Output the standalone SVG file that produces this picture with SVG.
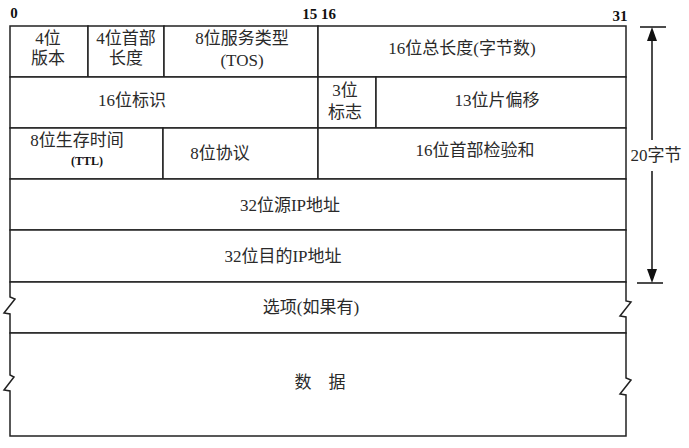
<svg xmlns="http://www.w3.org/2000/svg" width="689" height="448" viewBox="0 0 689 448">
<style>
.cell{fill:#fff;stroke:#222;stroke-width:1.5}
.t{font-family:"Liberation Serif","DejaVu Serif","Noto Sans CJK SC",serif;font-size:17px;fill:#2a2a2a;text-anchor:middle}
.h{font-family:"Liberation Serif","DejaVu Serif",serif;font-size:15px;font-weight:bold;fill:#111;text-anchor:middle}
.b{font-family:"Liberation Serif","DejaVu Serif",serif;font-size:12px;font-weight:bold;fill:#111;text-anchor:middle}
.ln{stroke:#111;stroke-width:1.5;fill:none}
</style>
<rect width="689" height="448" fill="#fff"/>
<g id="header">
<text class="h" x="14" y="18">0</text>
<text class="h" x="319" y="19">15 16</text>
<text class="h" x="620" y="21">31</text>
</g>
<g id="version"><rect class="cell" x="10" y="26" width="78" height="51"/><text class="t" x="48" y="44">4位</text><text class="t" x="48" y="64">版本</text></g>
<g id="ihl"><rect class="cell" x="88" y="26" width="76" height="51"/><text class="t" x="126" y="44">4位首部</text><text class="t" x="126" y="64">长度</text></g>
<g id="tos"><rect class="cell" x="164" y="26" width="154" height="51"/><text class="t" x="242" y="44">8位服务类型</text><text class="t" x="242" y="66">(TOS)</text></g>
<g id="total-length"><rect class="cell" x="318" y="26" width="308" height="51"/><text class="t" x="462" y="54">16位总长度(字节数)</text></g>
<g id="identification"><rect class="cell" x="10" y="77" width="308" height="51"/><text class="t" x="132" y="106">16位标识</text></g>
<g id="flags"><rect class="cell" x="318" y="77" width="58" height="51"/><text class="t" x="345" y="96">3位</text><text class="t" x="345" y="118">标志</text></g>
<g id="fragment-offset"><rect class="cell" x="376" y="77" width="250" height="51"/><text class="t" x="497" y="106">13位片偏移</text></g>
<g id="ttl"><rect class="cell" x="10" y="128" width="153" height="51"/><text class="t" x="77" y="146">8位生存时间</text><text class="b" x="87" y="165">(TTL)</text></g>
<g id="protocol"><rect class="cell" x="163" y="128" width="155" height="51"/><text class="t" x="220" y="159">8位协议</text></g>
<g id="checksum"><rect class="cell" x="318" y="128" width="308" height="51"/><text class="t" x="475" y="156">16位首部检验和</text></g>
<g id="src-ip"><rect class="cell" x="10" y="179" width="616" height="51"/><text class="t" x="290" y="211">32位源IP地址</text></g>
<g id="dst-ip"><rect class="cell" x="10" y="230" width="616" height="52"/><text class="t" x="283" y="262">32位目的IP地址</text></g>
<g id="options"><path class="cell" d="M10,282 H626 V301 L631,302 L620,316 L626,317 V333 H10 V314 L4,313 L15,299 L10,297 Z"/><text class="t" x="311" y="313">选项(如果有)</text></g>
<g id="data"><path class="cell" d="M10,333 H626 V378 L631,380 L620,394 L626,395 V436 H10 V391 L4,390 L14,377 L10,375 Z"/><text class="t" x="320" y="388">数　据</text></g>
<g id="connectors">
<line class="ln" x1="640" y1="27" x2="666" y2="27"/>
<line class="ln" x1="637" y1="283" x2="663" y2="283"/>
<line class="ln" x1="652" y1="38" x2="652" y2="140"/>
<line class="ln" x1="652" y1="171" x2="652" y2="272"/>
<path d="M652,27 L647,41 L657,41 Z" fill="#111"/>
<path d="M652,283 L647,269 L657,269 Z" fill="#111"/>
<text class="t" x="656" y="161">20字节</text>
</g>
</svg>
